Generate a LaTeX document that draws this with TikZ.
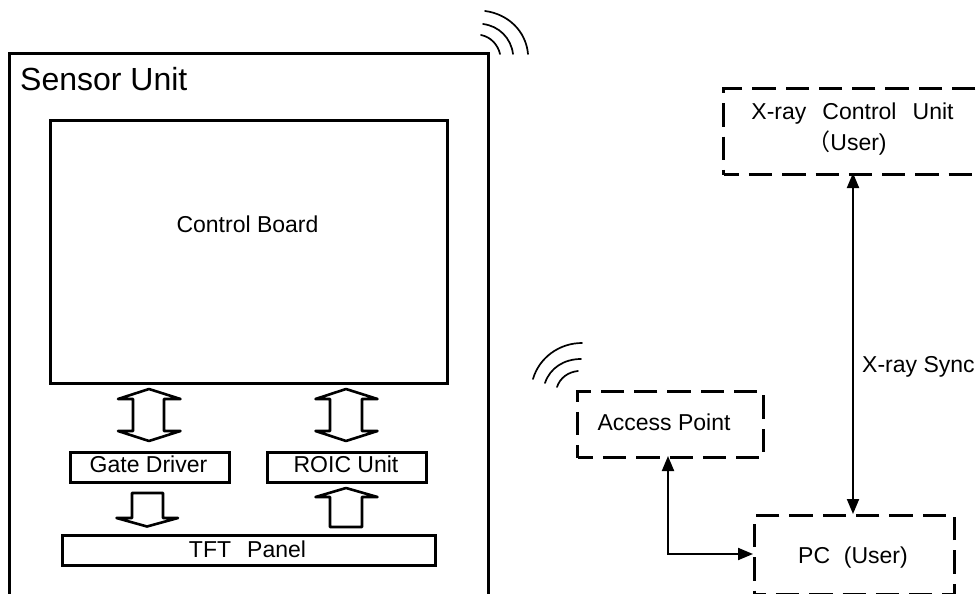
\documentclass[tikz,border=0pt]{standalone}
\usepackage{fontspec}
\setmainfont{Liberation Sans}
\newfontfamily\cjkfont{Noto Sans CJK SC}
\usetikzlibrary{arrows.meta,calc}
\tikzset{
  px/.style={x=1pt,y=-1pt},
  solidbox/.style={draw=black,line width=2.6pt,line join=miter,inner sep=0pt,anchor=north west},
  dashbox/.style={draw=black,line width=3.2pt,dash pattern=on 23.3pt off 10pt,dash phase=8pt,inner sep=0pt,anchor=north west},
  blockarrow/.style={draw=black,line width=2.6pt,line join=round,fill=white},
  wave/.style={draw=black,line width=1.7pt,line cap=round},
  conn/.style={draw=black,line width=2pt,{Triangle[length=15pt,width=12pt]}-{Triangle[length=15pt,width=12pt]}},
  lbl/.style={font=\fontsize{23}{28}\selectfont,inner sep=0pt}
}
\begin{document}
\begin{tikzpicture}[px]
\useasboundingbox (0,0) rectangle (980,594);
% solid boxes
\node[solidbox,minimum width=479pt,minimum height=541.5pt] (sensor) at (8,52) {};
\node[lbl,font=\fontsize{32}{38}\selectfont,anchor=base west] (sensorlabel) at (20,90) {Sensor Unit};
\node[solidbox,minimum width=397pt,minimum height=263pt] (board) at (49,119) {};
\node[lbl,anchor=base] (boardlabel) at (247.5,232) {Control Board};
\node[solidbox,minimum width=159pt,minimum height=30pt] (gate) at (69,451) {};
\node[lbl,anchor=base] (gatelabel) at (148.5,472.5) {Gate Driver};
\node[solidbox,minimum width=159pt,minimum height=30pt] (roic) at (266,451) {};
\node[lbl,anchor=base] (roiclabel) at (346,472.5) {ROIC Unit};
\node[solidbox,minimum width=373pt,minimum height=30pt] (tft) at (61,534) {};
\node[lbl,anchor=base] (tftlabel) at (247.5,557) {TFT\hspace{0.7em}Panel};
% block arrows
\draw[blockarrow] (149,389) -- (180.5,399) -- (164,399) -- (164,431) -- (180.5,431) -- (149,441) -- (118,431) -- (133,431) -- (133,399) -- (118,399) -- cycle;
\draw[blockarrow] (346,389) -- (377.5,399) -- (362,399) -- (362,431) -- (377.5,431) -- (346,441) -- (315.5,431) -- (330,431) -- (330,399) -- (315.5,399) -- cycle;
\draw[blockarrow] (132,493) -- (163,493) -- (163,518) -- (178,518) -- (147,526.5) -- (116.5,518) -- (132,518) -- cycle;
\draw[blockarrow] (346,488) -- (377.5,497) -- (362,497) -- (362,527) -- (330,527) -- (330,497) -- (315.5,497) -- cycle;
% waves top right
\draw[wave] (481,35) .. controls (491,37) and (498,45) .. (500,54);
\draw[wave] (483,24) .. controls (499,26) and (511,38) .. (513,54);
\draw[wave] (485,11) .. controls (508,14) and (526,31) .. (528,54);
% waves access point
\draw[wave] (582,343) .. controls (559,343) and (539,358) .. (533,379);
\draw[wave] (581,359) .. controls (564,359) and (550,368) .. (545,383);
\draw[wave] (578,371) .. controls (568,372) and (560,378) .. (557,387);
% dashed boxes
\node[dashbox,minimum width=262pt,minimum height=86pt] (xray) at (722,87) {};
\node[lbl,anchor=base] (xraylabel1) at (852.5,119) {X-ray\hspace{0.7em}Control\hspace{0.7em}Unit};
\node[lbl,anchor=base] (xraylabel2) at (847,150) {{\cjkfont （}User)};
\node[dashbox,minimum width=186pt,minimum height=66pt] (ap) at (576,390) {};
\node[lbl,anchor=base] (aplabel) at (664,430) {Access Point};
\node[dashbox,minimum width=200pt,minimum height=79pt,dash phase=12pt] (pc) at (753,514) {};
\node[lbl,anchor=base] (pclabel) at (853,563) {PC\hspace{0.6em}(User)};
% connectors
\coordinate (apport) at (668,456);
\coordinate (pcport) at (753,554);
\coordinate (xbottom) at (853,173);
\coordinate (pctop) at (853,514);
\draw[conn] (xbottom) -- (pctop);
\node[lbl,anchor=base west] (synclabel) at (862,372) {X-ray Sync};
\draw[conn] (apport) |- (pcport);
\end{tikzpicture}
\end{document}
